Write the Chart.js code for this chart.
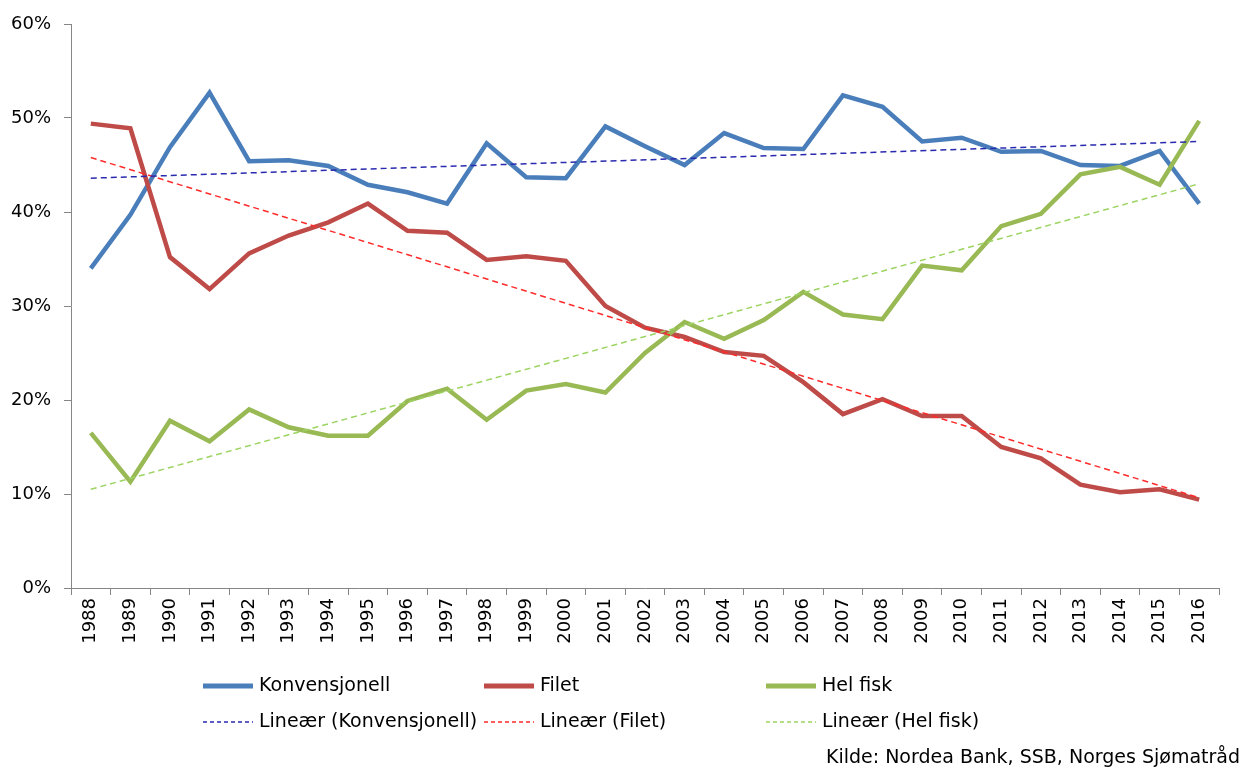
<!DOCTYPE html>
<html>
<head>
<meta charset="utf-8">
<script src="https://cdn.jsdelivr.net/npm/chart.js"></script>
<style>
  html, body { margin: 0; padding: 0; background: #fff; }
</style>
</head>
<body>
<canvas id="myChart" width="1242" height="769"></canvas>
<script>
const years = ['1988', '1989', '1990', '1991', '1992', '1993', '1994', '1995', '1996', '1997',
  '1998', '1999', '2000', '2001', '2002', '2003', '2004', '2005', '2006', '2007',
  '2008', '2009', '2010', '2011', '2012', '2013', '2014', '2015', '2016'];

const konvensjonell = [34.0, 39.7, 46.9, 52.7, 45.4, 45.5, 44.9, 42.9, 42.1, 40.9,
  47.3, 43.7, 43.6, 49.1, 47.0, 45.0, 48.4, 46.8, 46.7, 52.4,
  51.2, 47.5, 47.9, 46.4, 46.5, 45.0, 44.9, 46.5, 40.9];

const filet = [49.4, 48.9, 35.2, 31.8, 35.6, 37.5, 38.9, 40.9, 38.0, 37.8,
  34.9, 35.3, 34.8, 30.0, 27.7, 26.7, 25.1, 24.7, 21.9, 18.5,
  20.1, 18.3, 18.3, 15.0, 13.8, 11.0, 10.2, 10.5, 9.4];

const helFisk = [16.5, 11.3, 17.8, 15.6, 19.0, 17.1, 16.2, 16.2, 19.9, 21.2,
  17.9, 21.0, 21.7, 20.8, 25.0, 28.3, 26.5, 28.5, 31.5, 29.1,
  28.6, 34.3, 33.8, 38.5, 39.8, 44.0, 44.8, 42.9, 49.7];

// trend lines: start (1988) and end (2016) values
const trendKonv = [43.6, 47.5];
const trendFilet = [45.8, 9.6];
const trendHel = [10.5, 43.0];

const yTicks = [0, 10, 20, 30, 40, 50, 60];

const FONT = "'DejaVu Sans', sans-serif";
const axisColor = '#868686';

// only first and last point set, line spans the gap
function endpoints(pair) {
  const arr = years.map(() => null);
  arr[0] = pair[0];
  arr[arr.length - 1] = pair[1];
  return arr;
}

const data = {
  labels: years,
  datasets: [
    { label: 'Konvensjonell', data: konvensjonell, borderColor: '#4A7EBB', borderWidth: 4.5, order: 3, legendRow: 0 },
    { label: 'Filet', data: filet, borderColor: '#BE4B48', borderWidth: 4.5, order: 2, legendRow: 0 },
    { label: 'Hel fisk', data: helFisk, borderColor: '#98B954', borderWidth: 4.5, order: 1, legendRow: 0 },
    { label: 'Lineær (Konvensjonell)', data: endpoints(trendKonv), borderColor: '#2A2AB0', borderWidth: 1.5, borderDash: [6, 4], spanGaps: true, order: 0, legendRow: 1 },
    { label: 'Lineær (Filet)', data: endpoints(trendFilet), borderColor: '#FF2A2A', borderWidth: 1.5, borderDash: [6, 4], spanGaps: true, order: 0, legendRow: 1 },
    { label: 'Lineær (Hel fisk)', data: endpoints(trendHel), borderColor: '#9CD462', borderWidth: 1.5, borderDash: [6, 4], spanGaps: true, order: 0, legendRow: 1 },
  ].map(d => Object.assign({ pointRadius: 0, fill: false, tension: 0, borderJoinStyle: 'miter' }, d)),
};

const legendCols = [203, 484, 766];
const legendRows = [686, 722];

const legendPlugin = {
  id: 'excelLegend',
  afterDraw(chart) {
    const ctx = chart.ctx;
    ctx.save();
    ctx.font = '19px ' + FONT;
    ctx.textBaseline = 'middle';
    ctx.fillStyle = '#000';
    const counts = [0, 0];
    chart.data.datasets.forEach(ds => {
      const row = ds.legendRow;
      const x = legendCols[counts[row]++];
      const y = legendRows[row];
      ctx.beginPath();
      ctx.strokeStyle = ds.borderColor;
      ctx.lineWidth = row === 0 ? 5 : 1.4;
      ctx.setLineDash(row === 0 ? [] : [4, 3]);
      ctx.moveTo(x, y);
      ctx.lineTo(x + 50, y);
      ctx.stroke();
      ctx.setLineDash([]);
      ctx.fillText(ds.label, x + 56, y);
    });
    ctx.textAlign = 'right';
    ctx.fillText('Kilde: Nordea Bank, SSB, Norges Sjømatråd', 1240, 758);
    ctx.restore();
  }
};

const config = {
  type: 'line',
  data: data,
  plugins: [legendPlugin],
  options: {
    responsive: false,
    animation: false,
    layout: { padding: { left: 0, top: 24, right: 23, bottom: 111 } },
    plugins: {
      legend: { display: false },
      tooltip: { enabled: false },
    },
    scales: {
      x: {
        offset: true,
        grid: { offset: true, drawOnChartArea: false, tickLength: 7, color: axisColor },
        border: { color: axisColor, width: 1 },
        ticks: {
          autoSkip: false,
          minRotation: 90,
          maxRotation: 90,
          padding: 3,
          color: '#000',
          font: { family: FONT, size: 18 },
        },
        afterFit(scale) { scale.height = 70; },
      },
      y: {
        min: 0,
        max: 60,
        afterBuildTicks(scale) { scale.ticks = yTicks.map(v => ({ value: v })); },
        grid: { drawOnChartArea: false, tickLength: 7, color: axisColor },
        border: { color: axisColor, width: 1 },
        ticks: {
          padding: 13,
          color: '#000',
          font: { family: FONT, size: 18 },
          callback: function (value) {
            return value + '%';
          }
        },
        afterFit(scale) { scale.width = 71; },
      }
    }
  },
};

const ctx = document.querySelector('#myChart').getContext('2d');
const myChart = new Chart(ctx, config);
</script>
</body>
</html>
